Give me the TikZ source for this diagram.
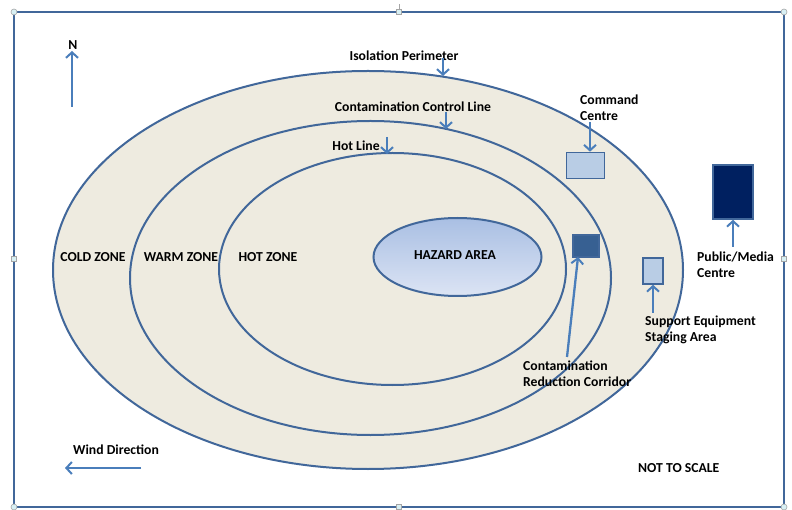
\documentclass[tikz,border=0pt]{standalone}
\usepackage{fontspec}
\setmainfont{Carlito}
\usetikzlibrary{arrows.meta,shapes.geometric}
\definecolor{zoneline}{HTML}{41679A}
\definecolor{zonefill}{HTML}{EEEBE0}
\definecolor{arrowblue}{HTML}{4A7EBB}
\definecolor{lightbox}{HTML}{B9CDE5}
\definecolor{midbox}{HTML}{376092}
\definecolor{navybox}{HTML}{002060}
\definecolor{hazTop}{HTML}{A9BFE3}
\definecolor{hazBot}{HTML}{DCE4F4}
\definecolor{handle}{HTML}{D8F0F4}
\tikzset{
  x=1pt, y=-1pt,
  lbl/.style={font=\fontsize{13.7}{16}\selectfont\bfseries, text=black, inner sep=0pt},
  lbll/.style={lbl, anchor=north west, align=left},
  zone/.style={draw=zoneline, line width=2pt, fill=zonefill},
  pointer/.style={draw=arrowblue, line width=2.3pt, -{Straight Barb[length=5.5pt,width=12pt,line width=2pt]}},
  facility/.style={draw=zoneline, line width=1.6pt, inner sep=0pt, rectangle},
  hcorner/.style={draw=gray!70, fill=handle, line width=0.6pt, circle, inner sep=0pt, minimum size=6pt},
  hside/.style={draw=gray!70, fill=handle, line width=0.6pt, rectangle, inner sep=0pt, minimum size=5pt},
}
\begin{document}
\begin{tikzpicture}
\useasboundingbox (0,0) rectangle (792,510);
\fill[white] (0,0) rectangle (792,510);
% frame
\draw[zoneline, line width=1.6pt] (14,12) rectangle (784,507);
% zones
\draw[zone] (368,270) ellipse [x radius=315, y radius=199];
\draw[zone] (370.5,278) ellipse [x radius=240.5, y radius=157];
\draw[zone] (392.5,269) ellipse [x radius=173.5, y radius=116];
\node[ellipse, draw=zoneline, line width=2pt, top color=hazTop, bottom color=hazBot,
      minimum width=168pt, minimum height=78pt, inner sep=0pt] (haz) at (457.5,257) {};
\node[lbl] (hazlbl) at (455,255) {HAZARD AREA};
% zone labels
\node[lbl] (cold) at (93,257) {COLD ZONE};
\node[lbl] (warm) at (181,257) {WARM ZONE};
\node[lbl] (hot) at (268,257) {HOT ZONE};
% line labels
\node[lbl] (isol) at (404,56) {Isolation Perimeter};
\coordinate (isolA) at (443,58);
\coordinate (isolB) at (443,76);
\draw[pointer] (isolA) -- (isolB);
\node[lbl] (ccl) at (413,107) {Contamination Control Line};
\coordinate (cclA) at (446,112);
\coordinate (cclB) at (446,129);
\draw[pointer] (cclA) -- (cclB);
\node[lbl] (hotl) at (356,146) {Hot Line};
\coordinate (hotA) at (387,137);
\coordinate (hotB) at (387,154);
\draw[pointer] (hotA) -- (hotB);
% facilities
\node[facility, fill=lightbox, minimum width=38pt, minimum height=26pt] (cmd) at (585.5,165.5) {};
\node[lbll] (cmdlbl) at (580,95) {Command\\Centre};
\coordinate (cmdA) at (590,122);
\draw[pointer] (cmdA) -- (cmd.north -| cmdA);
\node[facility, fill=navybox, minimum width=40pt, minimum height=54pt] (pub) at (733,192) {};
\node[lbll] (publbl) at (697,252) {Public/Media\\Centre};
\coordinate (pubA) at (733,247);
\draw[pointer] (pubA) -- (pub.south);
\node[facility, fill=midbox, minimum width=26pt, minimum height=22pt] (crc) at (586,246) {};
\node[lbll] (crclbl) at (523,361) {Contamination\\Reduction Corridor};
\coordinate (crcA) at (567,357);
\coordinate (crcB) at (578,257);
\draw[pointer] (crcA) -- (crcB);
\node[facility, fill=lightbox, minimum width=20pt, minimum height=26pt] (ses) at (653,271) {};
\node[lbll] (seslbl) at (645,316) {Support Equipment\\Staging Area};
\coordinate (sesA) at (653,313);
\draw[pointer] (sesA) -- (ses.south);
% north / wind
\node[lbl] (north) at (73,45) {N};
\coordinate (nA) at (72,107);
\coordinate (nB) at (72,51);
\draw[pointer] (nA) -- (nB);
\node[lbl, anchor=west] (wind) at (73,450) {Wind Direction};
\coordinate (wA) at (141,468);
\coordinate (wB) at (65,468);
\draw[pointer] (wA) -- (wB);
\node[lbl, anchor=west] (nts) at (638,468) {NOT TO SCALE};
% selection handles
\draw[gray!70, line width=0.6pt] (399,12) -- (399,4);
\node[hcorner] (h1) at (14,12) {};
\node[hcorner] (h2) at (784,12) {};
\node[hcorner] (h3) at (14,507) {};
\node[hcorner] (h4) at (784,507) {};
\node[hside] (h5) at (399,12) {};
\node[hside] (h6) at (14,259) {};
\node[hside] (h7) at (784,259) {};
\node[hside] (h8) at (399,507) {};
\end{tikzpicture}
\end{document}
